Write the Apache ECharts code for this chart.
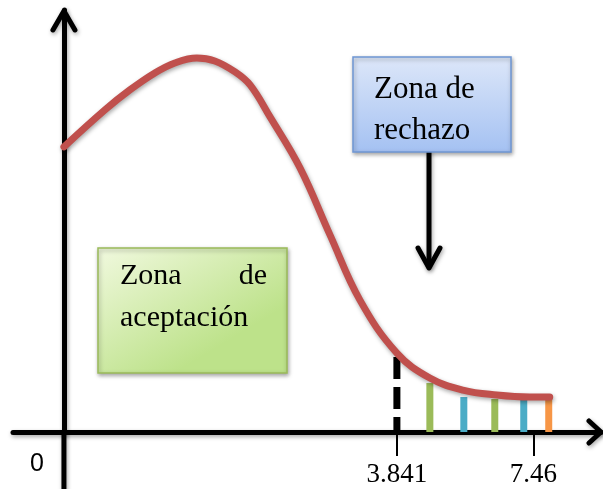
<!DOCTYPE html>
<html><head><meta charset="utf-8">
<script src="https://cdn.jsdelivr.net/npm/echarts@6/dist/echarts.min.js"></script>
<style>html,body{margin:0;padding:0;background:#fff}#c{width:603px;height:489px}</style>
</head><body><div id="c"></div>
<script>
// ---- Data (diagram units: distance right of the vertical axis, height above the horizontal axis)
const curveX = [0, 1.23, 1.98, 2.73, 3.33, 3.99, 4.53, 5.14, 5.59, 6.19, 7.09, 7.99, 8.89, 10.0, 10.99, 11.98, 13.0, 13.99, 14.59];
const curveY = [8.56, 9.67, 10.27, 10.78, 11.08, 11.23, 11.14, 10.81, 10.42, 9.46, 7.93, 5.92, 3.96, 2.37, 1.62, 1.26, 1.11, 1.05, 1.05];
const xTickPos = [0, 10, 14.1];
const xTickLabels = ['0', '3.841', '7.46'];
const criticalX = 10;
const criticalY = 2.25;
const barX = [10.99, 12.01, 12.94, 13.81, 14.56];
const barY = [1.47, 1.05, 0.99, 0.99, 0.99];
const acceptText = ['Zona', 'de', 'aceptación'];
const rejectText = ['Zona de', 'rechazo'];

// ---- Styles
const barColors = ['#9bbb59', '#4bacc6', '#9bbb59', '#4bacc6', '#f79646'];
const SERIF = '"Liberation Serif", "Times New Roman", serif';
const SANS = '"Liberation Sans", Arial, sans-serif';
const shadow = {shadowColor: 'rgba(0,0,0,0.35)', shadowBlur: 4, shadowOffsetX: 1, shadowOffsetY: 2};

const chart = echarts.init(document.getElementById('c'), null, {renderer: 'canvas'});
const xMin = -1.53, xMax = 16.13, yMin = 0, yMax = 12.67;

function labelFor(v) {
  let best = 0;
  xTickPos.forEach((p, i) => { if (Math.abs(p - v) < Math.abs(xTickPos[best] - v)) best = i; });
  return xTickLabels[best];
}

chart.setOption({
  animation: false,
  grid: {left: 13, right: 2, top: 10, bottom: 57, containLabel: false, outerBoundsMode: 'none'},
  xAxis: {
    type: 'value', min: xMin, max: xMax, splitLine: {show: false},
    axisLine: {show: true, onZero: false, lineStyle: Object.assign({color: '#000', width: 5}, shadow)},
    axisTick: {show: true, customValues: xTickPos.slice(1), length: 24, lineStyle: {color: '#000', width: 2}},
    axisLabel: {
      show: true, customValues: xTickPos, margin: 20, showMinLabel: true, showMaxLabel: true, hideOverlap: false,
      formatter: function (v) { const t = labelFor(v); return t === '0' ? '{z|' + t + '}' : '{n|' + t + '}'; },
      rich: {
        z: {fontFamily: SANS, fontSize: 25, color: '#000', padding: [0, 54, 0, 0]},
        n: {fontFamily: SERIF, fontSize: 27, color: '#000', padding: [9, 0, 0, 0]}
      }
    }
  },
  yAxis: {
    type: 'value', min: yMin, max: yMax, splitLine: {show: false},
    axisLine: {show: true, onZero: true, lineStyle: Object.assign({color: '#000', width: 5}, shadow)},
    axisTick: {show: false}, axisLabel: {show: false}
  },
  series: [
    {
      type: 'bar', barWidth: 7, z: 2,
      data: barX.map((x, i) => ({value: [x, barY[i]], itemStyle: {color: barColors[i]}}))
    },
    {
      type: 'line', symbol: 'none', z: 3,
      data: [[criticalX, criticalY], [criticalX, 0]],
      lineStyle: {color: '#000', width: 7, type: [22, 8]}
    },
    {
      type: 'line', symbol: 'none', smooth: 0.4, z: 4,
      data: curveX.map((x, i) => [x, curveY[i]]),
      lineStyle: Object.assign({color: '#c0504d', width: 7, cap: 'round', join: 'round'}, shadow)
    }
  ]
});

// ---- Annotations (axis arrow heads, y-axis continuation below the origin, text boxes, pointer arrow)
const yTip = chart.convertToPixel({gridIndex: 0}, [0, yMax]);
const xTip = chart.convertToPixel({gridIndex: 0}, [xMax, 0]);
const origin = chart.convertToPixel({gridIndex: 0}, [0, 0]);
const H = chart.getHeight();
const arrowStyle = Object.assign({stroke: '#000', lineWidth: 5, fill: null, lineCap: 'round', lineJoin: 'round'}, shadow);

function boxText(text, x, y, size, align) {
  return {type: 'text', z: 12, style: {text: text, x: x, y: y, font: size + 'px ' + SERIF, fill: '#000', align: align || 'left', verticalAlign: 'middle'}};
}

chart.setOption({
  graphic: [
    {type: 'line', z: 1, shape: {x1: origin[0], y1: origin[1], x2: origin[0], y2: H + 5},
      style: Object.assign({stroke: '#000', lineWidth: 5}, shadow)},
    {type: 'polyline', z: 10, shape: {points: [[yTip[0] - 11, yTip[1] + 20], [yTip[0], yTip[1] + 1], [yTip[0] + 11, yTip[1] + 20]]}, style: arrowStyle},
    {type: 'polyline', z: 10, shape: {points: [[xTip[0] - 12, xTip[1] - 11], [xTip[0], xTip[1]], [xTip[0] - 12, xTip[1] + 11]]}, style: arrowStyle},
    // rejection box
    {type: 'rect', z: 11, shape: {x: 353, y: 57, width: 158, height: 95},
      style: Object.assign({fill: new echarts.graphic.LinearGradient(0, 0, 0, 1, [{offset: 0, color: '#dde7f9'}, {offset: 1, color: '#a4c1f2'}]), stroke: '#6f96d4', lineWidth: 1.5}, shadow)},
    boxText(rejectText[0], 374, 90, 31),
    boxText(rejectText[1], 374, 131, 31),
    {type: 'line', z: 10, shape: {x1: 429, y1: 152, x2: 429, y2: 266}, style: arrowStyle},
    {type: 'polyline', z: 10, shape: {points: [[418, 248], [429, 268], [440, 248]]}, style: arrowStyle},
    // acceptance box
    {type: 'rect', z: 11, shape: {x: 98, y: 248, width: 189, height: 125},
      style: Object.assign({fill: new echarts.graphic.LinearGradient(0, 0, 0.4, 1, [{offset: 0, color: '#f1f9df'}, {offset: 1, color: '#bde28a'}]), stroke: '#9bbb59', lineWidth: 1.5}, shadow)},
    boxText(acceptText[0], 120, 276, 30),
    boxText(acceptText[1], 267, 276, 30, 'right'),
    boxText(acceptText[2], 120, 318, 30)
  ]
});
</script>
</body></html>
